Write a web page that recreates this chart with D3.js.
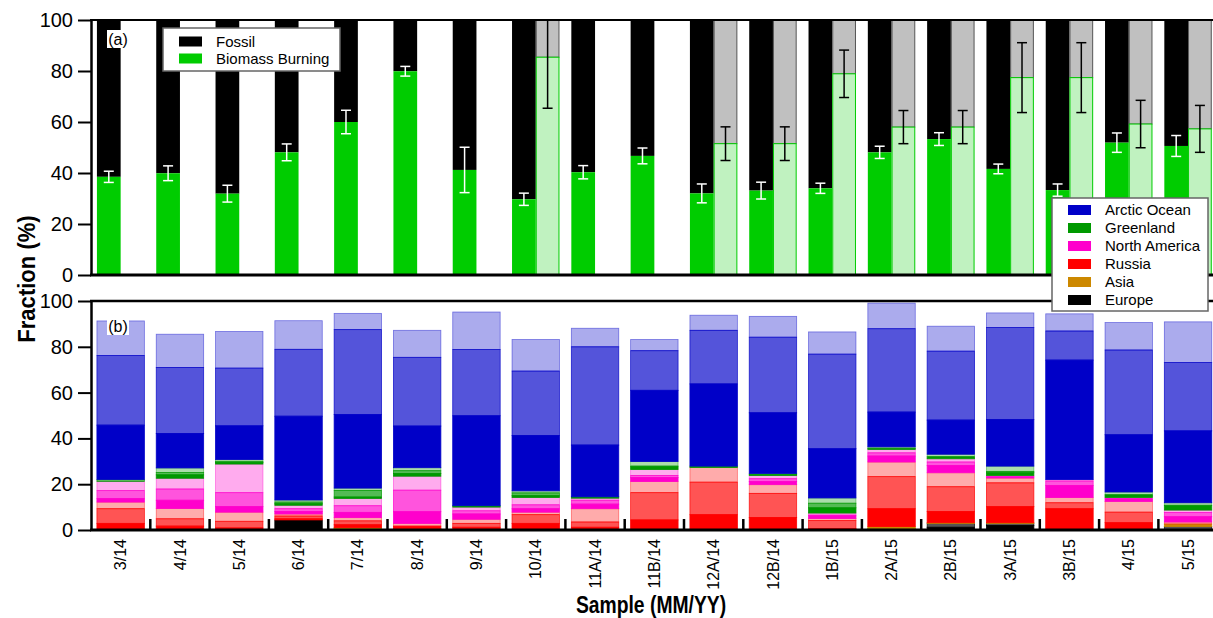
<!DOCTYPE html>
<html>
<head>
<meta charset="utf-8">
<script src="https://cdn.jsdelivr.net/npm/d3@7/dist/d3.min.js"></script>
<style>
    body { margin: 0; background: #fff; }
    text { font-family: "Liberation Sans", Arial, sans-serif; }
</style>
</head>
<body>
<svg id="chart" width="1213" height="618"></svg>
<script>
const CONSTANTS = {
    WIDTH: 1213,
    HEIGHT: 618,
    LEFT: 91,
    STEP: 59.3,
}

// sample names (x axis)
const samples = ["3/14", "4/14", "5/14", "6/14", "7/14", "8/14", "9/14", "10/14", "11A/14", "11B/14",
    "12A/14", "12B/14", "1B/15", "2A/15", "2B/15", "3A/15", "3B/15", "4/15", "5/15"];

// panel (a): measured biomass burning fraction (%) and its error
const biomass = [38.5, 39.9, 31.9, 48.1, 60.0, 79.9, 41.2, 29.7, 40.3, 46.7, 32.0, 33.1, 34.0, 48.1, 53.3, 41.6, 33.3, 51.9, 50.6];
const biomassErr = [2.2, 2.9, 3.3, 3.3, 4.6, 1.9, 8.9, 2.4, 2.6, 3.1, 3.7, 3.3, 2.0, 2.4, 2.5, 1.9, 2.4, 3.8, 4.1];
// panel (a): second (light) bars
const biomass2 = [null, null, null, null, null, null, null, 85.4, null, null, 51.5, 51.5, 78.9, 58.0, 58.0, 77.4, 77.4, 59.2, 57.3];
const biomass2Err = [null, null, null, null, null, null, null, 20.0, null, null, 6.6, 6.6, 9.3, 6.5, 6.5, 13.7, 13.7, 9.3, 9.2];

// panel (b): source region fractions (%), three shades per region, bottom to top
const europe1 = [0, 0, 0, 4.4, 0, 0, 0, 0, 0, 0, 0, 0, 0, 0, 1.2, 2.0, 0, 0, 0];
const europe2 = [0, 0, 0, 0, 0.6, 0, 0, 0, 0, 0, 0, 0, 0, 0.6, 1.7, 0.9, 0, 0, 1.5];
const europe3 = [0, 0, 0, 0, 0, 0, 0, 0, 0, 0, 0, 0, 0, 0, 0, 0, 0, 0, 0];
const asia1 = [0, 0, 0, 0, 0.5, 0.6, 0, 0, 0, 0, 0, 0, 0, 0.9, 0.3, 0.3, 0, 0, 1.1];
const asia2 = [0, 0, 0, 0, 0, 0, 0, 0, 0, 0, 0, 0, 0, 0, 0, 0, 0, 0, 0];
const asia3 = [0, 0, 0, 0, 0, 0, 0, 0, 0, 0, 0, 0, 0, 0, 0, 0, 0, 0, 0];
const russia1 = [2.9, 1.7, 0.9, 0.5, 1.2, 1.1, 1.2, 2.9, 1.2, 4.4, 6.7, 5.5, 0.6, 7.8, 4.9, 7.0, 9.3, 3.2, 0];
const russia2 = [6.4, 3.2, 2.9, 1.2, 1.7, 0, 1.7, 3.8, 2.3, 11.9, 14.2, 10.5, 3.5, 14.0, 10.8, 10.4, 2.6, 4.6, 0];
const russia3 = [2.9, 4.5, 4.0, 0.9, 1.4, 1.2, 1.8, 1.1, 5.8, 4.9, 6.4, 3.8, 0.9, 6.4, 6.1, 2.1, 2.3, 4.7, 0.9];
const namerica1 = [1.5, 3.6, 2.4, 1.1, 2.3, 5.1, 2.3, 1.5, 2.0, 1.7, 0, 1.4, 1.5, 2.6, 3.2, 0.6, 5.2, 1.2, 2.3];
const namerica2 = [3.5, 4.9, 6.1, 1.2, 2.9, 9.4, 1.4, 1.7, 1.7, 0.9, 0, 1.2, 0, 1.4, 1.5, 0, 2.0, 0, 1.8];
const namerica3 = [4.0, 4.7, 12.5, 1.5, 3.2, 6.1, 1.6, 3.2, 0.9, 2.6, 0, 1.4, 0.9, 1.5, 1.4, 0.5, 0.6, 0.5, 1.1];
const greenland1 = [0, 1.5, 0.7, 0.7, 0.6, 1.2, 0.6, 0.8, 0.6, 1.5, 0.6, 0.5, 2.3, 0.5, 0.9, 1.2, 0, 1.2, 2.1];
const greenland2 = [0.9, 1.0, 0.5, 0.7, 2.9, 1.2, 0, 1.2, 0, 0, 0, 0, 2.0, 0, 0, 0.6, 0, 0, 0];
const greenland3 = [0, 2.0, 0.8, 0.9, 1.0, 1.3, 0, 0.9, 0, 2.0, 0, 0.4, 2.3, 0.6, 1.1, 2.3, 0, 1.2, 1.1];
const arctic1 = [23.7, 15.0, 14.7, 36.6, 32.1, 18.2, 39.3, 24.2, 22.6, 31.1, 35.9, 26.5, 21.5, 15.2, 14.9, 20.3, 52.2, 25.0, 31.4];
const arctic2 = [30.4, 28.9, 25.2, 29.2, 37.1, 30.0, 28.9, 28.1, 42.9, 17.3, 23.4, 33.0, 41.3, 36.4, 30.1, 40.2, 12.7, 37.0, 29.8];
const arctic3 = [15.1, 14.5, 16.0, 12.5, 7.1, 11.8, 16.4, 13.8, 8.1, 4.9, 6.6, 9.1, 9.7, 11.2, 10.9, 6.4, 7.5, 12.0, 17.8];

const regions = ["Europe", "Asia", "Russia", "North America", "Greenland", "Arctic Ocean"];
const regionColors = ["#000000", "#cc8800", "#ff0000", "#ff00cc", "#009900", "#0000c8"];
const shadeOpacity = [1, 0.67, 0.33];
const regionSeries = [
    [europe1, europe2, europe3],
    [asia1, asia2, asia3],
    [russia1, russia2, russia3],
    [namerica1, namerica2, namerica3],
    [greenland1, greenland2, greenland3],
    [arctic1, arctic2, arctic3],
];

var svg = d3.select("#chart");

var x = d3.scaleBand()
    .domain(samples)
    .range([CONSTANTS.LEFT, CONSTANTS.LEFT + CONSTANTS.STEP * samples.length])
    .paddingInner(0.2)
    .paddingOuter(0.1);
var half = x.bandwidth() / 2;

var yA = d3.scaleLinear().domain([0, 100]).range([275, 20]);
var yB = d3.scaleLinear().domain([0, 100]).range([530, 301]);

svg.append("clipPath").attr("id", "clipA")
    .append("rect").attr("x", CONSTANTS.LEFT).attr("y", 20).attr("width", CONSTANTS.WIDTH).attr("height", 255);

// ---------- panel (a) ----------
var gA = svg.append("g").attr("clip-path", "url(#clipA)");

samples.forEach((s, i) => {
    var x0 = x(s);
    // fossil on top
    gA.append("rect")
        .attr("x", x0).attr("width", half)
        .attr("y", yA(100)).attr("height", yA(biomass[i]) - yA(100))
        .attr("fill", "#000");
    gA.append("rect")
        .attr("x", x0).attr("width", half)
        .attr("y", yA(biomass[i])).attr("height", yA(0) - yA(biomass[i]))
        .attr("fill", "#00cc00");
    errorBar(gA, x0 + half / 2, biomass[i], biomassErr[i], "#fff");

    if (biomass2[i] !== null) {
        var x1 = x0 + half;
        gA.append("rect")
            .attr("x", x1 + 0.5).attr("width", half - 1)
            .attr("y", yA(100)).attr("height", yA(biomass2[i]) - yA(100))
            .attr("fill", "#c0c0c0")
            .attr("stroke", "#555").attr("stroke-width", 1);
        gA.append("rect")
            .attr("x", x1 + 0.5).attr("width", half - 1)
            .attr("y", yA(biomass2[i])).attr("height", yA(0) - yA(biomass2[i]))
            .attr("fill", "#c0f2c0")
            .attr("stroke", "#00cc00").attr("stroke-width", 1);
        errorBar(gA, x1 + half / 2, biomass2[i], biomass2Err[i], "#000");
    }
});

function errorBar(g, cx, v, e, color) {
    g.append("line")
        .attr("x1", cx).attr("x2", cx)
        .attr("y1", yA(v + e)).attr("y2", yA(v - e))
        .attr("stroke", color).attr("stroke-width", 1.5);
    [v + e, v - e].forEach(function (t) {
        g.append("line")
            .attr("x1", cx - 5).attr("x2", cx + 5)
            .attr("y1", yA(t)).attr("y2", yA(t))
            .attr("stroke", color).attr("stroke-width", 1.5);
    });
}

// ---------- panel (b) ----------
var keys = [];
var colorOf = {};
var opacityOf = {};
regions.forEach((r, ri) => {
    shadeOpacity.forEach((o, si) => {
        var k = r + "_" + si;
        keys.push(k);
        colorOf[k] = regionColors[ri];
        opacityOf[k] = o;
    });
});

var table = samples.map((s, i) => {
    var row = { sample: s };
    regions.forEach((r, ri) => {
        regionSeries[ri].forEach((arr, si) => { row[r + "_" + si] = arr[i]; });
    });
    return row;
});

var stacked = d3.stack().keys(keys)(table);

svg.append("g")
    .selectAll("g")
    .data(stacked)
    .enter()
    .append("g")
        .attr("fill", d => colorOf[d.key])
        .attr("fill-opacity", d => opacityOf[d.key])
        .attr("stroke", d => colorOf[d.key])
        .attr("stroke-opacity", d => Math.min(1, opacityOf[d.key] + 0.15))
        .attr("stroke-width", 0.8)
    .selectAll("rect")
    .data(d => d.filter(p => p[1] - p[0] > 0))
    .enter()
    .append("rect")
        .attr("x", d => x(d.data.sample))
        .attr("width", x.bandwidth())
        .attr("y", d => yB(d[1]))
        .attr("height", d => yB(d[0]) - yB(d[1]));

// ---------- axes and frames ----------
function yAxis(scale) {
    var g = svg.append("g")
        .attr("transform", "translate(" + CONSTANTS.LEFT + ",0)")
        .call(d3.axisLeft(scale).tickValues([0, 20, 40, 60, 80, 100]).tickSize(13).tickSizeOuter(0).tickPadding(5));
    g.select(".domain").attr("stroke-width", 2.5);
    g.selectAll(".tick line").attr("stroke-width", 2);
    g.selectAll("text").attr("font-size", 20).attr("fill", "#000")
        .style("font-family", "'Liberation Sans', Arial, sans-serif");
}
yAxis(yA);
yAxis(yB);

// top frame lines and bottom baselines
[[yA(100), 2], [yA(0), 3], [yB(100), 2.5], [yB(0), 3]].forEach(function (d) {
    svg.append("line")
        .attr("x1", CONSTANTS.LEFT - 1).attr("x2", CONSTANTS.WIDTH)
        .attr("y1", d[0]).attr("y2", d[0])
        .attr("stroke", "#000").attr("stroke-width", d[1]);
});

// inner ticks between samples in panel (b)
var gap = x.step() - x.bandwidth();
svg.append("g")
    .selectAll("line")
    .data(samples)
    .enter()
    .append("line")
        .attr("x1", d => x(d) + x.bandwidth() + gap / 2)
        .attr("x2", d => x(d) + x.bandwidth() + gap / 2)
        .attr("y1", yB(0))
        .attr("y2", yB(0) - 11)
        .attr("stroke", "#000")
        .attr("stroke-width", 2.5);

// x tick labels
svg.append("g")
    .selectAll("text")
    .data(samples)
    .enter()
    .append("text")
        .attr("transform", d => "translate(" + (x(d) + half) + ",539) rotate(-90)")
        .attr("text-anchor", "end")
        .attr("dy", "0.35em")
        .attr("font-size", 16)
        .text(d => d);

// axis titles (slightly condensed like the original)
svg.append("text")
    .attr("transform", "translate(35,279) rotate(-90) scale(1.05,1.1)")
    .attr("text-anchor", "middle")
    .attr("font-size", 21)
    .attr("font-weight", "bold")
    .text("Fraction (%)");

svg.append("text")
    .attr("transform", "translate(651,613) scale(0.92,1.1)")
    .attr("text-anchor", "middle")
    .attr("font-size", 21)
    .attr("font-weight", "bold")
    .text("Sample (MM/YY)");

// panel labels
function panelLabel(txt, cx, cy) {
    svg.append("rect")
        .attr("x", cx - 11).attr("y", cy - 9).attr("width", 22).attr("height", 18)
        .attr("fill", "#fff");
    svg.append("text")
        .attr("x", cx).attr("y", cy)
        .attr("dy", "0.35em")
        .attr("text-anchor", "middle")
        .attr("font-size", 16)
        .text(txt);
}
panelLabel("(a)", 118, 39);
panelLabel("(b)", 118, 326);

// legend (a)
var legA = svg.append("g").attr("transform", "translate(163,28)");
legA.append("rect")
    .attr("width", 177).attr("height", 43)
    .attr("fill", "#fff").attr("stroke", "#666").attr("stroke-width", 1.5);
[["Fossil", "#000"], ["Biomass Burning", "#00cc00"]].forEach(function (d, i) {
    legA.append("rect")
        .attr("x", 16).attr("y", 8.5 + i * 17).attr("width", 23).attr("height", 10)
        .attr("fill", d[1]);
    legA.append("text")
        .attr("x", 53).attr("y", 13.5 + i * 17)
        .attr("dy", "0.35em")
        .attr("font-size", 15)
        .text(d[0]);
});

// legend (b)
var legB = svg.append("g").attr("transform", "translate(1052,198)");
legB.append("rect")
    .attr("width", 156).attr("height", 113)
    .attr("fill", "#fff").attr("stroke", "#666").attr("stroke-width", 1.5);
regions.slice().reverse().forEach(function (r, i) {
    legB.append("rect")
        .attr("x", 16).attr("y", 7 + i * 18).attr("width", 23).attr("height", 10)
        .attr("fill", regionColors[regions.length - 1 - i]);
    legB.append("text")
        .attr("x", 53).attr("y", 12 + i * 18)
        .attr("dy", "0.35em")
        .attr("font-size", 15)
        .text(r);
});
</script>
</body>
</html>
